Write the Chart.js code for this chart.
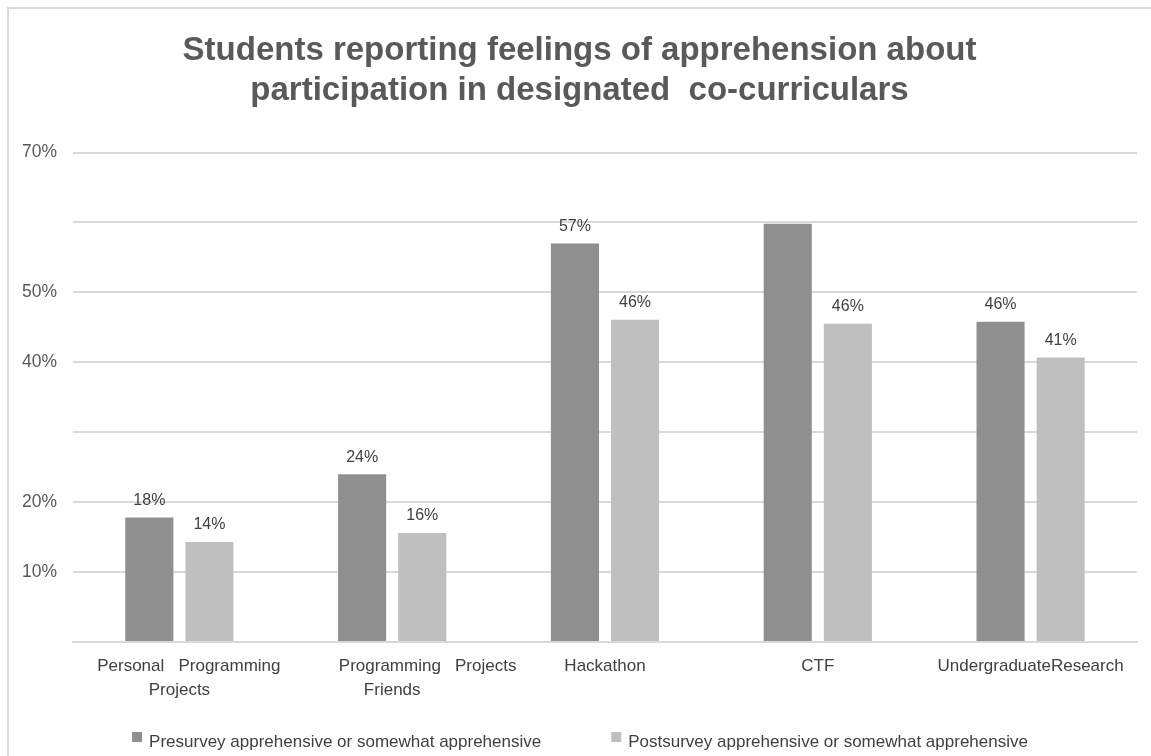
<!DOCTYPE html>
<html>
<head>
<meta charset="utf-8">
<script src="https://cdn.jsdelivr.net/npm/chart.js@4.4.1/dist/chart.umd.min.js"></script>
<style>
  html, body { margin: 0; padding: 0; background: #fff; overflow: hidden; }
  #frame {
    position: absolute; left: 7px; top: 7px;
    width: 1144px; height: 749px;
    border-left: 2px solid #d9d9d9; border-top: 2px solid #d9d9d9;
  }
  #chart { display: block; }
</style>
</head>
<body>
<div id="frame"><canvas id="chart" width="1142" height="747"></canvas></div>
<script>
// Chart data
const categories = [
    ['    Personal   Programming', 'Projects'],
    ['               Programming   Projects', 'Friends'],
    'Hackathon',
    'CTF',
    'UndergraduateResearch'
];
const preValues = [17.8, 24, 57, 59.8, 45.8];
const postValues = [14.3, 15.6, 46.1, 45.5, 40.7];
const preLabels = ['18%', '24%', '57%', '', '46%'];
const postLabels = ['14%', '16%', '46%', '46%', '41%'];
const shownTicks = [10, 20, 40, 50, 70];

const seriesNames = [
    'Presurvey apprehensive or somewhat apprehensive',
    'Postsurvey apprehensive or somewhat apprehensive'
];

const FONT = '"Liberation Sans", Arial, sans-serif';

// Draw the value labels above the bars
const barLabels = {
    id: 'barLabels',
    afterDatasetsDraw(chart) {
        const ctx = chart.ctx;
        const texts = [preLabels, postLabels];
        ctx.save();
        ctx.font = '16px ' + FONT;
        ctx.fillStyle = '#404040';
        ctx.textAlign = 'center';
        ctx.textBaseline = 'bottom';
        chart.data.datasets.forEach((ds, i) => {
            chart.getDatasetMeta(i).data.forEach((bar, j) => {
                const t = texts[i][j];
                if (t) ctx.fillText(t, bar.x, bar.y - 9);
            });
        });
        ctx.restore();
    }
};

// Bottom legend, squares sit a little above the text like the original
const bottomLegend = {
    id: 'bottomLegend',
    afterDraw(chart) {
        const ctx = chart.ctx;
        const box = 10, gapText = 7, gapItems = 70;
        ctx.save();
        ctx.font = '17px ' + FONT;
        ctx.textBaseline = 'middle';
        ctx.textAlign = 'left';
        const items = chart.data.datasets.map(ds => ({
            text: ds.label,
            color: ds.backgroundColor,
            w: box + gapText + ctx.measureText(ds.label).width
        }));
        const total = items.reduce((s, it) => s + it.w, 0) + gapItems * (items.length - 1);
        let x = (chart.width - total) / 2;
        const y = chart.height - 14;
        items.forEach(it => {
            ctx.fillStyle = it.color;
            ctx.fillRect(x, y - 10, box, box);
            ctx.fillStyle = '#404040';
            ctx.fillText(it.text, x + box + gapText, y);
            x += it.w + gapItems;
        });
        ctx.restore();
    }
};

const ctx = document.getElementById('chart').getContext('2d');
new Chart(ctx, {
    type: 'bar',
    data: {
        labels: categories,
        datasets: [
            {
                label: seriesNames[0],
                data: preValues,
                backgroundColor: '#8f8f8f',
                categoryPercentage: 0.565,
                barPercentage: 0.8
            },
            {
                label: seriesNames[1],
                data: postValues,
                backgroundColor: '#bfbfbf',
                categoryPercentage: 0.565,
                barPercentage: 0.8
            }
        ]
    },
    options: {
        responsive: false,
        animation: false,
        layout: { padding: { left: 13, right: 14, top: 0, bottom: 42 } },
        plugins: {
            title: {
                display: true,
                text: ['Students reporting feelings of apprehension about', 'participation in designated  co-curriculars'],
                color: '#595959',
                font: { family: FONT, size: 33, weight: 'bold', lineHeight: 1.22 },
                padding: { top: 22, bottom: 41 }
            },
            legend: { display: false },
            tooltip: { enabled: false }
        },
        scales: {
            x: {
                grid: { display: false, drawTicks: false },
                border: { display: true, color: '#d9d9d9', width: 2 },
                ticks: {
                    color: '#404040',
                    font: { family: FONT, size: 17, lineHeight: 1.41 },
                    padding: 12,
                    maxRotation: 0,
                    autoSkip: false
                }
            },
            y: {
                min: 0,
                max: 70,
                grid: { color: '#d9d9d9', lineWidth: 2, drawTicks: false },
                border: { display: false },
                ticks: {
                    stepSize: 10,
                    color: '#595959',
                    crossAlign: 'far',
                    font: { family: FONT, size: 17.5 },
                    callback: v => shownTicks.includes(v) ? v + '%' : ''
                },
                afterFit(scale) { scale.width = 51; }
            }
        }
    },
    plugins: [barLabels, bottomLegend]
});
</script>
</body>
</html>
